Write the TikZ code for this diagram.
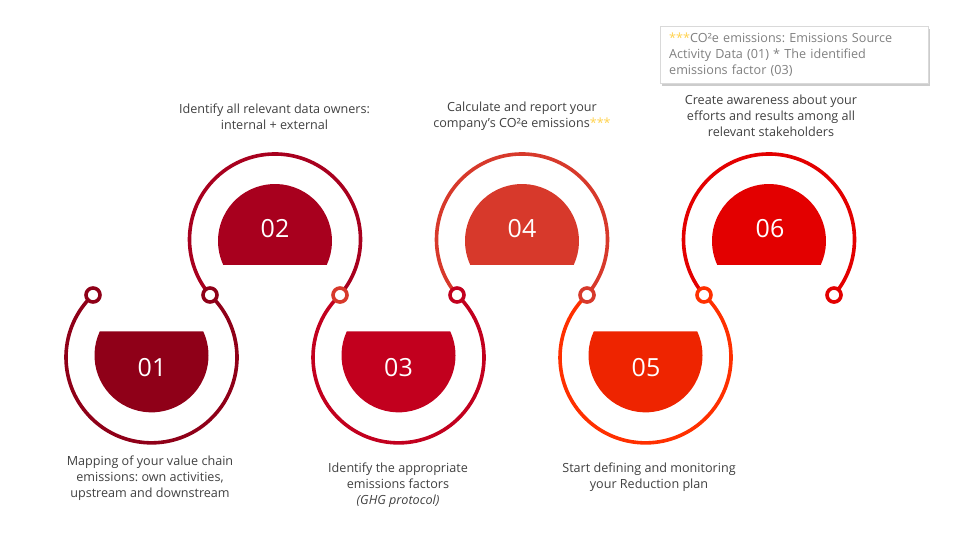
\documentclass[tikz,border=0pt]{standalone}
\usepackage{fontspec}
\setmainfont{Open Sans}
\usetikzlibrary{shadows}
\AtBeginDocument{\frenchspacing}
\definecolor{cA}{HTML}{8F0018}
\definecolor{cB}{HTML}{A8001E}
\definecolor{cC}{HTML}{C2001E}
\definecolor{cD}{HTML}{D7392B}
\definecolor{cE}{HTML}{EE2400}
\definecolor{cEr}{HTML}{FF3000}
\definecolor{cF}{HTML}{E30000}
\definecolor{txt}{HTML}{404040}
\definecolor{note}{HTML}{808080}
\definecolor{star}{HTML}{FFD24D}
\tikzset{
  ringline/.style={line width=3.6pt},
  knob/.style={circle, draw, fill=white, line width=3.6pt, inner sep=0pt, minimum size=14pt},
  numlabel/.style={text=white, font=\fontsize{25}{30}\selectfont, inner sep=0pt},
  desc/.style={text=txt, font=\fontsize{12.6}{16}\selectfont, align=center, inner sep=0pt},
}
\newcommand{\botfill}[2]{% center, colour
  \fill[#2] (#1) ++(0,2) ++(155.1:57) arc[start angle=155.1, end angle=384.9, radius=57] -- cycle;}
\newcommand{\topfill}[2]{%
  \fill[#2] (#1) ++(0,-1.5) ++(-24.9:57) arc[start angle=-24.9, end angle=204.9, radius=57] -- cycle;}
\begin{document}
\begin{tikzpicture}[x=1pt,y=1pt]
\useasboundingbox (0,0) rectangle (960,-540);
% ring centres
\coordinate (b1) at (151.5,-357.35);
\coordinate (b3) at (398.5,-357.35);
\coordinate (b5) at (645.5,-357.35);
\coordinate (t2) at (275,-239.5);
\coordinate (t4) at (522,-239.5);
\coordinate (t6) at (769,-239.5);
% knob positions
\path (b1) ++(133.17:85.5) coordinate (k1);
\path (b1) ++(46.83:85.5) coordinate (k2);
\path (t2) ++(-40.5:85.5) coordinate (k3);
\path (b3) ++(46.83:85.5) coordinate (k4);
\path (t4) ++(-40.5:85.5) coordinate (k5);
\path (b5) ++(46.83:85.5) coordinate (k6);
\path (t6) ++(-40.5:85.5) coordinate (k7);
% rings
\draw[ringline, cA] (k1) arc[start angle=133.17, end angle=406.83, radius=85.5];
\draw[ringline, cB] (k2) arc[start angle=220.5, end angle=-40.5, radius=85.5];
\draw[ringline, cC] (k3) arc[start angle=133.17, end angle=406.83, radius=85.5];
\draw[ringline, cD] (k4) arc[start angle=220.5, end angle=-40.5, radius=85.5];
\draw[ringline, cEr] (k5) arc[start angle=133.17, end angle=406.83, radius=85.5];
\draw[ringline, cF] (k6) arc[start angle=220.5, end angle=-40.5, radius=85.5];
% knobs
\node[knob, draw=cA] (n1) at (k1) {};
\node[knob, draw=cA] (n2) at (k2) {};
\node[knob, draw=cD] (n3) at (k3) {};
\node[knob, draw=cC] (n4) at (k4) {};
\node[knob, draw=cD] (n5) at (k5) {};
\node[knob, draw=cEr] (n6) at (k6) {};
\node[knob, draw=cF] (n7) at (k7) {};
% half discs
\botfill{b1}{cA}
\topfill{t2}{cB}
\botfill{b3}{cC}
\topfill{t4}{cD}
\botfill{b5}{cE}
\topfill{t6}{cF}
% numbers
\node[numlabel] (m1) at (152,-368) {01};
\node[numlabel] (m2) at (275,-229) {02};
\node[numlabel] (m3) at (398.5,-368) {03};
\node[numlabel] (m4) at (522,-229) {04};
\node[numlabel] (m5) at (646,-368) {05};
\node[numlabel] (m6) at (770,-229) {06};
% descriptions
\node[desc] (d1) at (150,-478) {Mapping of your value chain\\emissions: own activities,\\upstream and downstream};
\node[desc] (d2) at (274.5,-116.5) {Identify all relevant data owners:\\internal + external};
\node[desc] (d3) at (398,-485) {Identify the appropriate\\emissions factors\\\textit{(GHG protocol)}};
\node[desc] (d4) at (522,-116) {Calculate and report your\\company's CO²e emissions\textcolor{star}{***}};
\node[desc] (d5) at (649,-477) {Start defining and monitoring\\your Reduction plan};
\node[desc] (d6) at (771,-116) {Create awareness about your\\efforts and results among all\\relevant stakeholders};
% note box
\node[draw=black!15, fill=white, drop shadow={shadow xshift=1.5pt, shadow yshift=-2.5pt, opacity=0.4},
      anchor=north west, text width=250pt, minimum height=57pt, inner xsep=9pt, inner ysep=4.5pt, align=left,
      text=note, font=\fontsize{12.6}{16}\selectfont] (nb) at (660,-26)
  {\textcolor{star}{***}CO²e emissions: Emissions Source\\Activity Data (01) * The identified\\emissions factor (03)};
\end{tikzpicture}
\end{document}
